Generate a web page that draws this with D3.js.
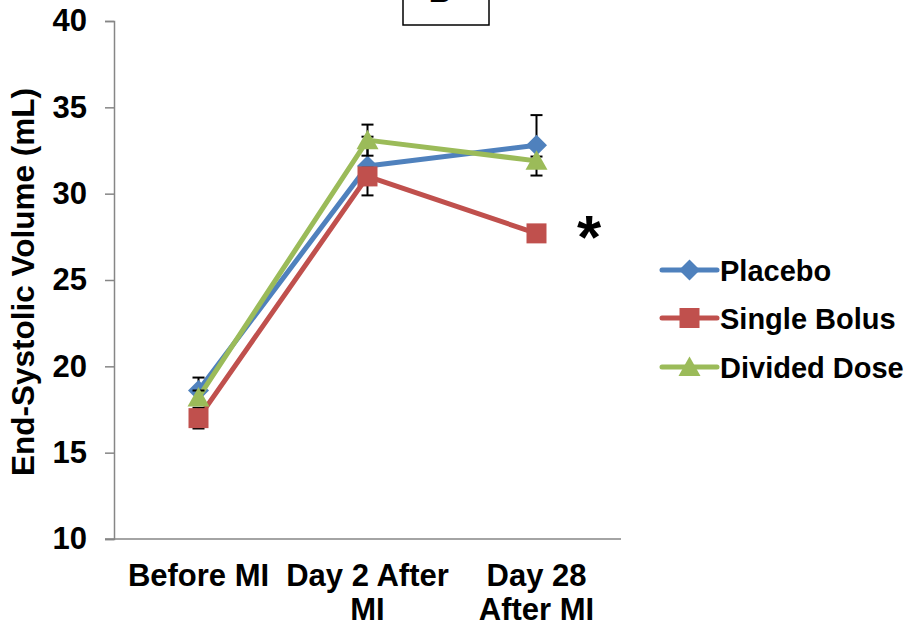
<!DOCTYPE html>
<html><head><meta charset="utf-8">
<script src="https://cdn.jsdelivr.net/npm/d3@7"></script>
<style>body{margin:0;background:#fff}svg{display:block}text{font-family:"Liberation Sans",Arial,sans-serif;font-weight:bold;fill:#000}</style>
</head><body>
<script>
const categories = [["Before MI"], ["Day 2 After", "MI"], ["Day 28", "After MI"]];
const seriesNames = ["Placebo", "Single Bolus", "Divided Dose"];
const placebo = [18.6, 31.6, 32.8];
const placeboErr = [0.75, 1.7, 1.75];
const singleBolus = [17.0, 31.0, 27.7];
const singleBolusErr = [0.6, 0.5, 0.4];
const dividedDose = [18.2, 33.1, 31.9];
const dividedDoseErr = [0.4, 0.9, 0.25];
const yTicks = [10, 15, 20, 25, 30, 35, 40];
const yTitle = "End-Systolic Volume (mL)";
const panelLetter = "B";
const sigMark = "*";

const W = 914, H = 627;
const colors = ["#4F81BD", "#C0504D", "#9BBB59"];
const series = [
  {name: seriesNames[0], v: placebo, e: placeboErr},
  {name: seriesNames[1], v: singleBolus, e: singleBolusErr},
  {name: seriesNames[2], v: dividedDose, e: dividedDoseErr}
];
const svg = d3.select("body").append("svg").attr("width", W).attr("height", H);

const x = d3.scalePoint().domain(d3.range(categories.length)).range([114, 621]).padding(0.5);
const y = d3.scaleLinear().domain([10, 40]).range([539, 21]);
const FS = 31;

function markerPath(si) {
  if (si === 0) return "M0,-10.5L10.5,0L0,10.5L-10.5,0Z";
  if (si === 1) return "M-10,-10H10V10H-10Z";
  return "M0,-10.5L11,9H-11Z";
}

// y axis
const yAxis = svg.append("g").attr("transform", "translate(114,0)")
  .call(d3.axisLeft(y).tickValues(yTicks).tickSize(9).tickPadding(18));
yAxis.select(".domain").attr("stroke", "#868686").attr("stroke-width", 1.5);
yAxis.selectAll(".tick line").attr("stroke", "#868686").attr("stroke-width", 1.5);
yAxis.selectAll(".tick text").attr("font-size", FS).attr("font-family", "Liberation Sans, Arial, sans-serif").attr("font-weight", "bold").attr("fill", "#000");

// x axis
const xAxis = svg.append("g").attr("transform", "translate(0,539)")
  .call(d3.axisBottom(x).tickSize(0).tickFormat(""));
xAxis.select(".domain").attr("stroke", "#868686").attr("stroke-width", 1.5).attr("d", "M105,0H621");
categories.forEach((lines, i) => {
  const t = svg.append("text").attr("text-anchor", "middle").attr("font-size", FS);
  lines.forEach((ln, j) => t.append("tspan").attr("x", x(i)).attr("y", 586 + j * 34).text(ln));
});

// y title
svg.append("text").attr("transform", "translate(34,282) rotate(-90)").attr("text-anchor", "middle")
  .attr("font-size", 31.5).text(yTitle);

// series
const line = d3.line().x((d, i) => x(i)).y(d => y(d));
series.forEach((s, si) => {
  const g = svg.append("g");
  g.append("path").attr("d", line(s.v)).attr("fill", "none").attr("stroke", colors[si])
    .attr("stroke-width", 5).attr("stroke-linejoin", "round").attr("stroke-linecap", "round");
  s.v.forEach((v, i) => {
    const cx = x(i), yt = y(v + s.e[i]), yb = y(v - s.e[i]);
    g.append("line").attr("x1", cx).attr("x2", cx).attr("y1", yt).attr("y2", yb).attr("stroke", "#000").attr("stroke-width", 2);
    [yt, yb].forEach(yy => g.append("line").attr("x1", cx - 6).attr("x2", cx + 6).attr("y1", yy).attr("y2", yy).attr("stroke", "#000").attr("stroke-width", 2));
  });
  s.v.forEach((v, i) => {
    g.append("path").attr("d", markerPath(si))
      .attr("transform", `translate(${x(i)},${y(v)})`).attr("fill", colors[si]);
  });
});

// significance star
svg.append("text").attr("x", 589).attr("y", 258).attr("text-anchor", "middle").attr("font-size", 62).text(sigMark);

// panel box
svg.append("rect").attr("x", 403).attr("y", -10).attr("width", 86).attr("height", 35)
  .attr("fill", "none").attr("stroke", "#000").attr("stroke-width", 1.5);
svg.append("text").attr("x", 440).attr("y", 1.5).attr("text-anchor", "middle").attr("font-size", FS).text(panelLetter);

// legend
const legY = [270, 318, 367];
series.forEach((s, si) => {
  const g = svg.append("g").attr("transform", `translate(0,${legY[si]})`);
  g.append("line").attr("x1", 662).attr("x2", 717).attr("y1", 0).attr("y2", 0).attr("stroke", colors[si])
    .attr("stroke-width", 5).attr("stroke-linecap", "round");
  g.append("path").attr("d", markerPath(si))
    .attr("transform", `translate(689.5,0)`).attr("fill", colors[si]);
  g.append("text").attr("x", 720).attr("y", 11).attr("font-size", 29).text(s.name);
});
</script>
</body></html>
